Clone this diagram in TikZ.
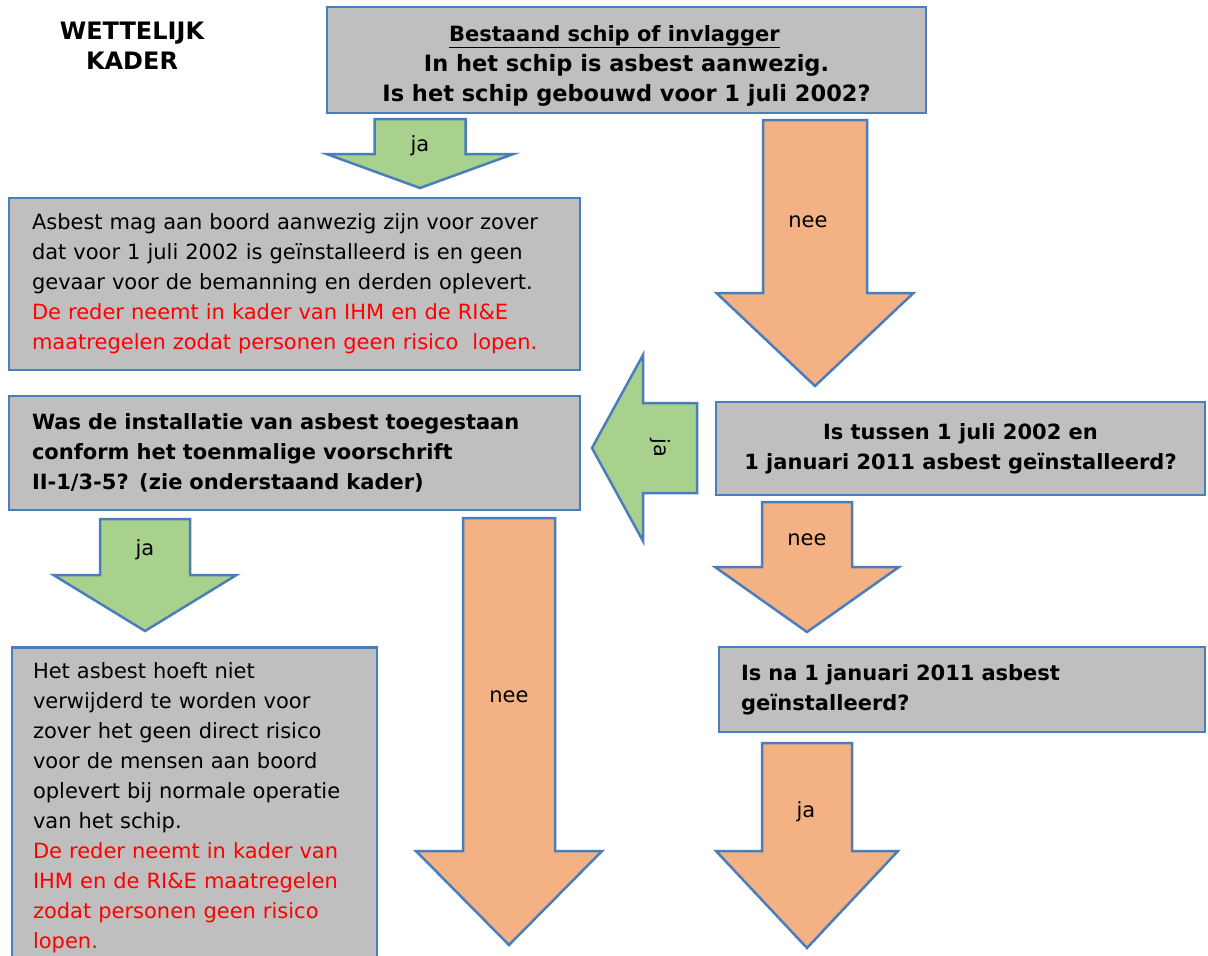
\documentclass[tikz,border=0pt]{standalone}
\usepackage{fontspec}
\setmainfont{DejaVu Sans}
\definecolor{boxgray}{HTML}{BFBFBF}
\definecolor{bordc}{HTML}{4A7EBB}
\definecolor{agreen}{HTML}{A9D18E}
\definecolor{aorange}{HTML}{F4B183}
\definecolor{tred}{HTML}{FF0000}
\newcommand{\bdown}[7]{\filldraw[#1] ({#2-#3},#5) -- ({#2+#3},#5) -- ({#2+#3},#6) -- ({#2+#4},#6) -- (#2,#7) -- ({#2-#4},#6) -- ({#2-#3},#6) -- cycle;}
\begin{document}
\begin{tikzpicture}[x=1pt,y=-1pt,
  base/.style={font=\fontsize{21}{30}\selectfont},
  boldbase/.style={font=\fontsize{21}{30}\selectfont\bfseries},
  box/.style={draw=bordc, fill=boxgray, line width=2.5pt, rectangle, inner sep=0pt},
  garrow/.style={draw=bordc, fill=agreen, line width=2.5pt},
  oarrow/.style={draw=bordc, fill=aorange, line width=2.5pt},
  lbl/.style={base, inner sep=0pt}]
\useasboundingbox (0,0) rectangle (1208,956);
\clip (0,0) rectangle (1208,956);
\fill[white] (0,0) rectangle (1208,956);

% block arrows
\bdown{garrow}{420}{45.5}{93.5}{119}{154}{188}
\bdown{oarrow}{815}{52}{98.5}{120}{293}{386}
\bdown{oarrow}{807}{45}{92}{502}{567}{632}
\bdown{oarrow}{807}{45}{91}{743}{851}{948}
\bdown{garrow}{145}{45}{91.5}{519}{575}{631}
\bdown{oarrow}{509}{46}{93}{518}{851}{945}
\filldraw[garrow] (697,403) -- (643,403) -- (643,355) -- (592,448) -- (643,541) -- (643,493) -- (697,493) -- cycle;

% arrow labels
\node[lbl] (l1) at (420,146) {ja};
\node[lbl] (l2) at (808,222) {nee};
\node[lbl] (l3) at (807,540) {nee};
\node[lbl] (l4) at (806,812) {ja};
\node[lbl] (l5) at (145,550) {ja};
\node[lbl] (l6) at (509,697) {nee};
\node[lbl, rotate=-90] (l7) at (660,448) {ja};

% title
\node[font=\fontsize{24}{30}\selectfont\bfseries, align=center, inner sep=0pt] (kader) at (132,46) {WETTELIJK\\KADER};

% boxes
\node[box, font=\fontsize{22.5}{30}\selectfont\bfseries, minimum width=599pt, minimum height=106pt, align=center] (top) at (626.5,60)
  {\rule{0pt}{27pt}\hspace*{-24pt}{\fontsize{21}{30}\selectfont\underline{Bestaand schip of invlagger}}\\In het schip is asbest aanwezig.\\Is het schip gebouwd voor 1 juli 2002?};

\node[box, base, minimum width=571pt, minimum height=172pt, text width=525pt, align=left] (asb) at (294.5,284)
  {Asbest mag aan boord aanwezig zijn voor zover\\dat voor 1 juli 2002 is geïnstalleerd is en geen\\gevaar voor de bemanning en derden oplevert.\\\textcolor{tred}{De reder neemt in kader van IHM en de RI\&E}\\\textcolor{tred}{maatregelen zodat personen geen risico\ \ lopen.}};

\node[box, boldbase, minimum width=571pt, minimum height=114pt, text width=525pt, align=left] (inst) at (294.5,453)
  {Was de installatie van asbest toegestaan\\conform het toenmalige voorschrift\\II-1/3-5? (zie onderstaand kader)};

\node[box, boldbase, minimum width=489pt, minimum height=93pt, align=center] (tussen) at (960.5,448.5)
  {Is tussen 1 juli 2002 en\\1 januari 2011 asbest geïnstalleerd?};

\node[box, boldbase, minimum width=486pt, minimum height=85pt, text width=442pt, align=left] (na) at (962,689.5)
  {Is na 1 januari 2011 asbest\\geïnstalleerd?};

\node[box, base, anchor=north, minimum width=365pt, text width=323pt, inner ysep=15pt, align=left] (hoeft) at (194.5,646)
  {Het asbest hoeft niet\\verwijderd te worden voor\\zover het geen direct risico\\voor de mensen aan boord\\oplevert bij normale operatie\\van het schip.\\\textcolor{tred}{De reder neemt in kader van}\\\textcolor{tred}{IHM en de RI\&E maatregelen}\\\textcolor{tred}{zodat personen geen risico}\\\textcolor{tred}{lopen.}};
\end{tikzpicture}
\end{document}
